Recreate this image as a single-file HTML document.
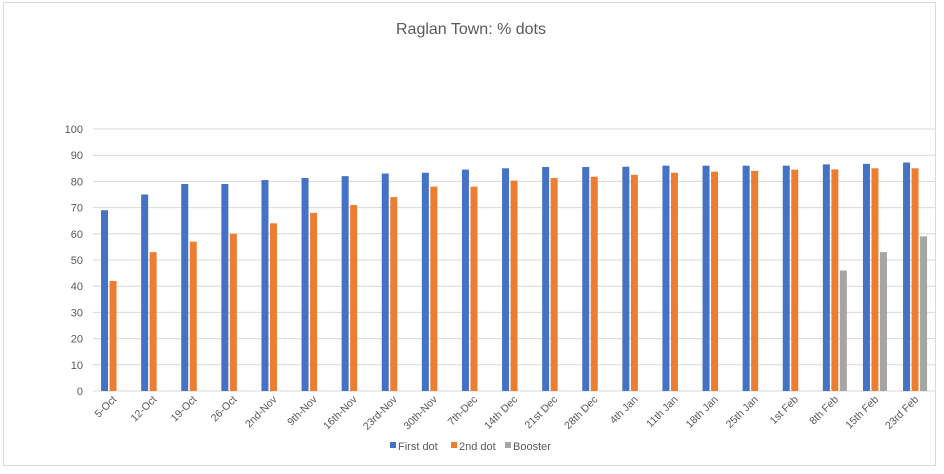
<!DOCTYPE html>
<html><head><style>body{margin:0;background:#fff}svg{display:block}text{font-family:"Liberation Sans",sans-serif}</style></head><body>
<svg width="944" height="474" xmlns="http://www.w3.org/2000/svg">
<rect x="0" y="0" width="944" height="474" fill="#fff"/>
<rect x="3.5" y="2.5" width="932" height="463" fill="none" stroke="#d9d9d9"/>
<text x="471" y="34" font-size="16" fill="#595959" text-anchor="middle">Raglan Town: % dots</text>
<g id="g"></g>
<g font-size="11" fill="#595959">
<rect x="390" y="442" width="6" height="6" fill="#4472c4"/><text x="398" y="450">First dot</text>
<rect x="451" y="442" width="6" height="6" fill="#ed7d31"/><text x="459" y="450">2nd dot</text>
<rect x="505" y="442" width="6" height="6" fill="#a5a5a5"/><text x="513" y="450">Booster</text>
</g>
</svg>
<script>
const g=document.getElementById('g');const NS='http://www.w3.org/2000/svg';
const labs=["5-Oct","12-Oct","19-Oct","26-Oct","2nd-Nov","9th-Nov","16th-Nov","23rd-Nov","30th-Nov","7th-Dec","14th Dec","21st Dec","28th Dec","4th Jan","11th Jan","18th Jan","25th Jan","1st Feb","8th Feb","15th Feb","23rd Feb"];
const b=[69,75,79,79,80.5,81.3,82,83,83.3,84.5,85,85.5,85.5,85.6,86,86,86,86,86.5,86.7,87.2];
const o=[42,53,57,60,64,68,71,74,78,78,80.3,81.3,81.8,82.5,83.3,83.7,84,84.5,84.6,85,85];
const gr={18:46,19:53,20:59};
const y0=391,k=2.62,L=93,W=40.1;let h='';
for(let i=0;i<=10;i++){const y=y0-i*10*k;h+=`<line x1="${L}" x2="935" y1="${y}" y2="${y}" stroke="${i?'#d9d9d9':'#d9d9d9'}"/><text x="83" y="${y+4}" font-size="11" fill="#595959" text-anchor="end">${i*10}</text>`;}
labs.forEach((l,i)=>{const c=L+W*i+W/2,s=c-12;
h+=`<rect x="${s}" y="${y0-b[i]*k}" width="7" height="${b[i]*k}" fill="#4472c4"/>`;
h+=`<rect x="${s+8.5}" y="${y0-o[i]*k}" width="7" height="${o[i]*k}" fill="#ed7d31"/>`;
if(gr[i])h+=`<rect x="${s+17}" y="${y0-gr[i]*k}" width="7" height="${gr[i]*k}" fill="#a5a5a5"/>`;
h+=`<text transform="translate(${c+4},${y0+9}) rotate(-45)" font-size="10.5" fill="#595959" text-anchor="end">${l}</text>`;});
g.innerHTML=h;
</script>
</body></html>
